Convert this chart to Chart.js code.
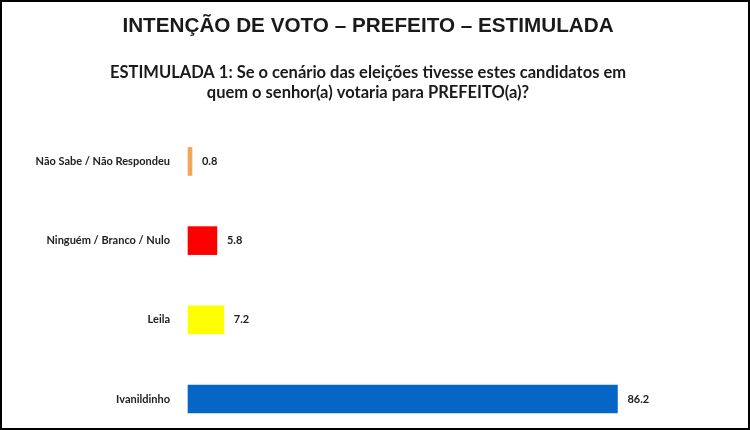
<!DOCTYPE html>
<html>
<head>
<meta charset="utf-8">
<script src="https://cdn.jsdelivr.net/npm/chart.js@4.4.1/dist/chart.umd.min.js"></script>
<style>
  html, body { margin: 0; padding: 0; background: #ffffff; }
  canvas { display: block; }
</style>
</head>
<body>
<canvas id="c" width="750" height="430"></canvas>
<script>
const titleText = 'INTENÇÃO DE VOTO – PREFEITO – ESTIMULADA';
const subtitleLines = [
  'ESTIMULADA 1: Se o cenário das eleições tivesse estes candidatos em',
  'quem o senhor(a) votaria para PREFEITO(a)?'
];
const categories = ['Não Sabe / Não Respondeu', 'Ninguém / Branco / Nulo', 'Leila', 'Ivanildinho'];
const values = [0.8, 5.8, 7.2, 86.2];
const barColors = ['#F2A65A', '#FF0000', '#FFFF00', '#0566C6'];

const valueLabels = {
  id: 'valueLabels',
  afterDatasetsDraw(chart) {
    const ctx = chart.ctx;
    const meta = chart.getDatasetMeta(0);
    ctx.save();
    ctx.font = 'bold 11px Lato';
    ctx.fillStyle = '#222222';
    ctx.textAlign = 'left';
    ctx.textBaseline = 'middle';
    meta.data.forEach((bar, i) => {
      ctx.fillText(values[i].toFixed(1), bar.x + 10, bar.y);
    });
    ctx.restore();
  }
};

const frame = {
  id: 'frame',
  beforeDraw(chart) {
    const ctx = chart.ctx;
    ctx.save();
    ctx.fillStyle = '#ffffff';
    ctx.fillRect(0, 0, chart.width, chart.height);
    ctx.restore();
  },
  afterDraw(chart) {
    const ctx = chart.ctx;
    ctx.save();
    ctx.strokeStyle = '#000000';
    ctx.lineWidth = 2;
    ctx.strokeRect(1, 1, chart.width - 2, chart.height - 2);
    ctx.restore();
  }
};

new Chart(document.getElementById('c'), {
  type: 'bar',
  data: {
    labels: categories,
    datasets: [{
      data: values,
      backgroundColor: barColors,
      borderWidth: 0,
      barThickness: 28,
      clip: false
    }]
  },
  options: {
    indexAxis: 'y',
    responsive: false,
    animation: false,
    layout: { padding: { left: 0, right: 14, top: 0, bottom: 31 } },
    plugins: {
      legend: { display: false },
      tooltip: { enabled: false },
      title: {
        display: true,
        text: titleText,
        color: '#1a1a1a',
        font: { family: 'Liberation Sans', size: 20.7, weight: 'bold', lineHeight: 1.2 },
        padding: { top: 14, bottom: 24 }
      },
      subtitle: {
        display: true,
        text: subtitleLines,
        color: '#1a1a1a',
        font: { family: 'Lato', size: 16.5, weight: 'bold', lineHeight: 1.2 },
        padding: { top: 0, bottom: 59 }
      }
    },
    scales: {
      x: {
        display: false,
        min: 0,
        max: 110
      },
      y: {
        offset: false,
        grid: { display: false },
        border: { display: false },
        ticks: {
          padding: 10,
          color: '#222222',
          font: { family: 'Lato', size: 11, weight: 'bold' }
        },
        afterFit(scale) { scale.width = 188; }
      }
    }
  },
  plugins: [frame, valueLabels]
});
</script>
</body>
</html>
